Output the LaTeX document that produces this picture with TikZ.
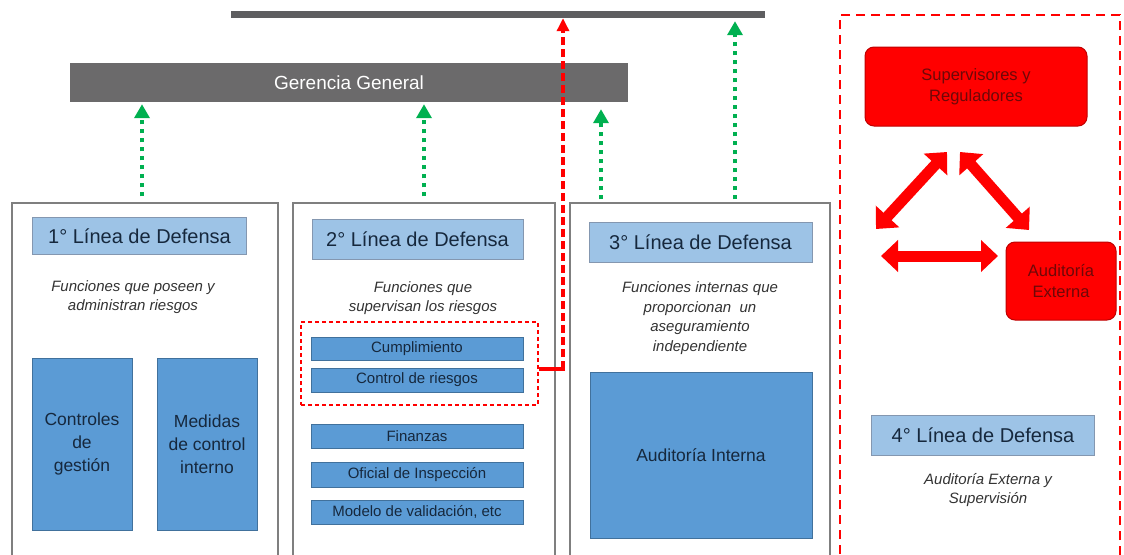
\documentclass[tikz,border=0pt]{standalone}
\usepackage{fontspec}
\setmainfont{Liberation Sans}
\usetikzlibrary{arrows.meta}
\definecolor{topgray}{HTML}{5E5E60}
\definecolor{gergray}{HTML}{6B6A6B}
\definecolor{boxgray}{HTML}{7F7F7F}
\definecolor{headblue}{HTML}{9DC3E6}
\definecolor{headdraw}{HTML}{8497B0}
\definecolor{midblue}{HTML}{5B9BD5}
\definecolor{middraw}{HTML}{41719C}
\definecolor{navytext}{HTML}{16283D}
\definecolor{greytext}{HTML}{333333}
\definecolor{garrowc}{HTML}{00B050}
\definecolor{redfill}{HTML}{FF0000}
\definecolor{reddraw}{HTML}{C00000}
\definecolor{redtext}{HTML}{6E0808}
\tikzset{
  bigbox/.style={draw=boxgray, line width=1.3pt, fill=white, inner sep=0pt},
  headbox/.style={draw=headdraw, line width=0.8pt, fill=headblue, inner sep=0pt,
    text=navytext, font=\fontsize{20}{24}\selectfont},
  bluebox/.style={draw=middraw, line width=0.8pt, fill=midblue, inner sep=0pt,
    text=navytext, align=center, font=\fontsize{17.5}{23}\selectfont},
  stackbox/.style={draw=middraw, line width=0.8pt, fill=midblue, inner sep=0pt,
    text=navytext, minimum width=212pt, font=\fontsize{15}{17}\selectfont},
  itext/.style={text=greytext, align=center, inner sep=0pt,
    font=\fontsize{15}{19.5}\selectfont\itshape},
  redbox/.style={draw=reddraw, line width=1pt, fill=redfill, rounded corners=9pt,
    inner sep=0pt, text=redtext, align=center, font=\fontsize{16.5}{21}\selectfont},
  garrow/.style={draw=garrowc, line width=4pt, dash pattern=on 4pt off 5pt,
    -{Triangle[width=15pt,length=14pt]}},
  rdash/.style={draw=redfill, line width=3.5pt, dash pattern=on 8pt off 4pt,
    -{Triangle[width=12pt,length=13pt]}},
  fatarrow/.style={draw=redfill, line width=11pt,
    {Triangle[width=31pt,length=17pt]}-{Triangle[width=31pt,length=17pt]}},
}
\begin{document}
\begin{tikzpicture}[x=1pt,y=-1pt]
\useasboundingbox (0,0) rectangle (1124,554);
\clip (0,0) rectangle (1124,554);
\fill[white] (0,0) rectangle (1124,554);

% top bars
\node[fill=topgray, minimum width=534pt, minimum height=7pt, inner sep=0pt] (topbar) at (498,14.5) {};
\node[fill=gergray, minimum width=558pt, minimum height=39pt, inner sep=0pt,
  text=white, font=\fontsize{19}{22}\selectfont] (ger) at (349,82.5) {Gerencia General};

% big boxes
\node[bigbox, minimum width=266pt, minimum height=366pt] (b1) at (145,386) {};
\node[bigbox, minimum width=262pt, minimum height=366pt] (b2) at (424,386) {};
\node[bigbox, minimum width=260pt, minimum height=366pt] (b3) at (700,386) {};

% fourth line container
\node[draw=redfill, line width=2pt, dash pattern=on 9pt off 6pt, inner sep=0pt,
  minimum width=280pt, minimum height=560pt] (b4) at (980,295) {};

% headings
\node[headbox, minimum width=214pt, minimum height=37pt] (h1) at (139.5,236) {1° Línea de Defensa};
\node[headbox, minimum width=211pt, minimum height=40pt] (h2) at (417.5,239) {2° Línea de Defensa};
\node[headbox, minimum width=223pt, minimum height=40pt] (h3) at (700.5,242) {3° Línea de Defensa};
\node[headbox, minimum width=223pt, minimum height=40pt] (h4) at (983,435) {4° Línea de Defensa};

% italic descriptions
\node[itext] (i1) at (133,297) {Funciones que poseen y\\administran riesgos};
\node[itext] (i2) at (423,298) {Funciones que\\supervisan los riesgos};
\node[itext] (i3) at (700,318) {Funciones internas que\\proporcionan\ \ un\\aseguramiento\\independiente};
\node[itext] (i4) at (988,490) {Auditoría Externa y\\Supervisión};

% first line boxes
\node[bluebox, minimum width=100pt, minimum height=172pt] (c1) at (82,444) {Controles\\de\\gestión};
\node[bluebox, minimum width=100pt, minimum height=172pt] (c2) at (207,444) {Medidas\\de control\\interno};

% second line stack
\node[stackbox, minimum height=23pt] (s1) at (417,348.5) {Cumplimiento};
\node[stackbox, minimum height=24pt] (s2) at (417,380) {Control de riesgos};
\node[stackbox, minimum height=24pt] (s3) at (417,436) {Finanzas};
\node[stackbox, minimum height=25pt] (s4) at (417,475) {Oficial de Inspección};
\node[stackbox, minimum height=24pt] (s5) at (417,512) {Modelo de validación, etc};
\node[draw=redfill, line width=1.8pt, dash pattern=on 4pt off 3pt, inner sep=0pt,
  minimum width=237pt, minimum height=83pt] (rd) at (419.5,363.5) {};

% third line box
\node[bluebox, minimum width=222pt, minimum height=166pt] (ai) at (701,455) {Auditoría Interna};

% red boxes
\node[redbox, minimum width=222pt, minimum height=79pt] (sup) at (976,86.5) {Supervisores y\\Reguladores};
\node[redbox, minimum width=110pt, minimum height=78pt] (aud) at (1061,281) {Auditoría\\Externa};

% green dotted arrows
\draw[garrow] ([xshift=-3pt]b1.north) ++(0,-6) -- ([xshift=-3pt,yshift=-2pt]b1.north |- ger.south);
\draw[garrow] (b2.north) ++(0,-6) -- ([yshift=-2pt]b2.north |- ger.south);
\draw[garrow] ([xshift=-99pt]b3.north) ++(0,-3) -- ([xshift=-99pt,yshift=-7pt]b3.north |- ger.south);
\draw[garrow] ([xshift=35pt]b3.north) ++(0,-3) -- ([xshift=35pt,yshift=-3pt]b3.north |- topbar.south);

% red dashed escalation
\coordinate (rj) at (563,369);
\draw[redfill, line width=4.5pt] ([yshift=-5.5pt]rd.east) -- ([xshift=2pt]rj);
\draw[rdash] (rj) -- (rj |- topbar.south);

% red double arrows
\coordinate (ta) at (876,229);
\coordinate (tb) at (947,152);
\coordinate (tc) at (960,152);
\coordinate (td) at (1029,230);
\coordinate (te) at (881,256);
\coordinate (tf) at (998,256);
\draw[fatarrow] (ta) -- (tb);
\draw[fatarrow] (tc) -- (td);
\draw[fatarrow] (te) -- (tf);
\end{tikzpicture}
\end{document}
